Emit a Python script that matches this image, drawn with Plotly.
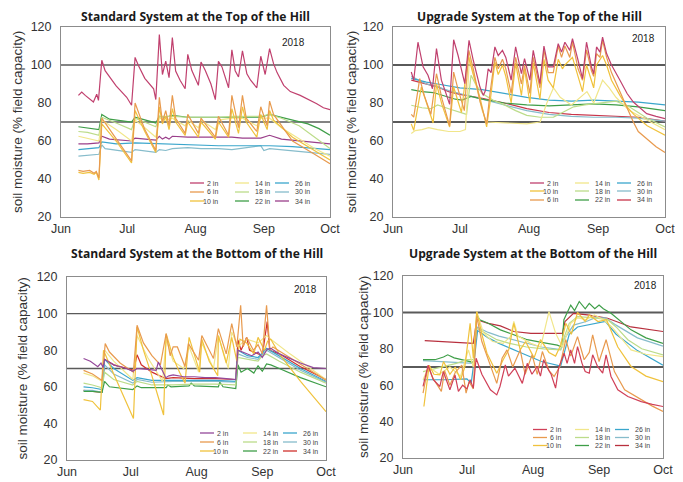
import pandas as pd
import plotly.graph_objects as go

# The page body keeps the browser's default 8px margin, so the figure is sized to fit
# the 683x482 window inside that margin and reference pixels are shifted by it.
WIN_W, WIN_H, OFF = 683, 482, 8
W, H = WIN_W - OFF, WIN_H - OFF
BASE = pd.Timestamp("2018-06-01")
X_START, X_END = "2018-06-01", "2018-10-01"

MONTH_TICKS = ["2018-06-01", "2018-07-01", "2018-08-01", "2018-09-01", "2018-10-01"]
MONTH_LABELS = ["Jun", "Jul", "Aug", "Sep", "Oct"]
Y_TICKS = [20, 40, 60, 80, 100, 120]
REF_LINES = [70, 100]
YEAR = "2018"
Y_TITLE = "soil moisture (% field capacity)"
TITLES = ["Standard System at the Top of the Hill",
          "Upgrade System at the Top of the Hill",
          "Standard System at the Bottom of the Hill",
          "Upgrade System at the Bottom of the Hill"]

DEPTHS = ["2 in", "6 in", "10 in", "14 in", "18 in", "22 in", "26 in", "30 in", "34 in"]

# ---- data: (days after Jun 1, % field capacity) ----
# Standard system, top of hill
ST_2 = [(7.9,84),(9.4,85.8),(11,84),(14.7,80.5),(16.2,84.6),(17,81.4),(18.5,102.5),(20,97),(25,89),(29.8,83),(32,78.8),(33.6,104),(35,100),(38,93),(42,87.5),(43,81.8),(44.6,116),(46,95),(47.5,102),(49,93.3),(50.5,114.4),(52,96.8),(54,92),(56.3,87.5),(57.5,105.6),(59.3,97.2),(62.3,89.3),(63.5,101.6),(65.4,97.2),(68,90),(70,81.8),(71.4,102),(73,99),(76,88),(77.5,108),(79,97),(80.5,93.7),(82.3,107.4),(84.3,95.4),(86,92),(88.8,88),(90.6,104.6),(92.6,95),(94.6,108.6),(96.4,100.7),(98,96),(101,89.3),(104,86),(108.5,84),(112,82),(116,79.6),(119,77.5),(122,76.5)]
ST_6 = [(7.9,44.5),(10,44),(13,44.5),(15,43),(16,44),(17.2,40.5),(18.5,72),(25,61),(32,49.5),(33.6,80),(38,66),(43,55),(44.6,83),(46,70),(47.5,76),(49,68),(50.5,84),(52,72),(56.3,64),(57.5,74),(62.3,64),(63.5,72),(70,62),(71.4,73),(76,63),(77.5,84),(80.5,67),(82.3,84),(84,72),(88.8,65),(90.6,78),(93.5,68),(94.6,81),(96.4,74),(105,60),(115,53),(122,48)]
ST_10 = [(7.9,43.5),(10,43),(13,43.5),(15,42.5),(16,43.5),(17.2,39.5),(18.5,69),(25,60),(32,48.5),(33.6,76),(38,65),(43,54),(44.6,78),(46,69),(47.5,73),(49,66),(50.5,77),(52,70),(56.3,63),(57.5,70),(62.3,62),(63.5,70),(70,61),(71.4,70),(76,62),(77.5,77),(80.5,64),(82.3,78),(84,70),(88.8,62),(90.6,74),(93.5,66),(94.6,76),(96.4,71),(105,62),(115,55),(122,50)]
ST_14 = [(7.9,62.5),(12,61.5),(17.2,60),(18.5,71),(25,66),(32,60),(33.6,71),(38,67),(43,62),(44.6,72),(47.5,71),(50.5,72),(56.3,68),(57.5,71),(62.3,67),(63.5,71),(70,66),(71.4,71),(77.5,72),(82.3,72),(88.8,68),(90.6,72),(94.6,72),(100,67),(108,61),(115,56),(122,52)]
ST_18 = [(7.9,65),(12,64.5),(17.2,63),(18.5,72.5),(25,69.5),(32,66),(33.6,72),(43,67.5),(44.6,73),(50.5,73),(57.5,72.5),(63.5,72.5),(71.4,72.5),(77.5,73),(82.3,73),(90.6,73),(94.6,74),(100,72),(108,68),(115,62),(122,56)]
ST_22 = [(7.9,67.5),(12,67),(17.2,66),(18.5,74),(22,71.5),(32,70),(33.6,72.5),(43,69.5),(44.6,73),(47.5,72.5),(50.5,73.5),(57.5,72.5),(63.5,72.5),(71.4,72.5),(77.5,72.5),(82.3,72.5),(90.6,72.5),(94.6,74),(100,72.5),(106,71),(112,69),(117,66.5),(122,63)]
ST_26 = [(7.9,55.5),(12,56),(17.2,56.5),(18.5,59.5),(25,58.5),(33.6,59),(44.6,58.5),(57.5,58),(71.4,57.5),(82.3,57.5),(94.6,57.5),(105,57),(122,55.5)]
ST_30 = [(7.9,52),(12,52.5),(17.2,53),(18.5,58),(20,56),(32,54),(33.6,55.5),(43,54),(44.6,55.5),(47.5,55),(50.5,56),(57.5,56.5),(63.5,56),(71.4,56),(77.5,55.5),(90.6,57.5),(92,55),(94.6,56),(105,55),(122,53)]
ST_34 = [(7.9,58.5),(12,58.5),(17.2,59),(18.5,62.5),(22,61),(32,60),(33.6,61.5),(43,60.5),(44.6,62.5),(46,61),(47.5,62),(49,61),(50.5,62.5),(57.5,62),(63.5,62),(71.4,62),(77.5,62),(82.3,61.5),(90.6,61.5),(94.6,63),(100,61),(122,58.5)]

# Upgrade system, top of hill
UT_2 = [(8.2,96.3),(9.3,92),(11.2,112),(13.5,99),(15.7,94.6),(17.7,87.5),(19.5,108.6),(21.7,92),(23.5,86),(25.4,79.3),(27.2,113.3),(29.2,105),(32.2,90.2),(34.1,113),(36,102.5),(39,88.4),(40.5,84),(41.5,86.7),(42.7,98),(44,96),(45.7,109.5),(47.2,105),(49.1,107.7),(50.6,104),(53,92),(55,109.5),(57.6,95.4),(59,103.3),(61.4,92),(62.9,107.7),(64.7,97.2),(65.9,90.2),(67.7,110),(69.6,99),(71.9,99),(74.1,111.2),(75.6,106.8),(77.1,112),(79.3,107.7),(80.5,113.9),(83,102.5),(85,92.8),(86.8,112),(89,99),(90,95.4),(91.3,109.5),(92.8,106.8),(94,114.7),(95.8,106),(98,100),(101.8,92),(105,85),(107.8,80.5),(111,77),(113.8,74.4),(118,73),(122,71.8)]
UT_6 = [(8.2,74),(9.3,72.6),(12,92.8),(14,84),(17,74),(19.5,95.4),(22,82),(25.4,68),(27.2,96.3),(29,88),(32,76),(34,107.7),(36,98),(39,81),(42,69),(43.5,85),(45.7,104),(47.2,98),(49.1,103),(50.6,98),(53,85),(55,104),(57.6,90),(59,100),(61.4,85),(62.9,104),(65.9,88),(67.7,108),(69.6,96),(71.9,96),(74.1,110),(75.6,104),(77.1,110),(79.3,104),(80.5,112),(83,98),(85,92),(86.8,108),(89,97),(90,94),(91.3,106),(92.8,104),(94,113),(95.8,104),(98,96),(101.8,86),(105,77),(107.8,70),(110,65),(113.8,61),(118,57),(122,54)]
UT_10 = [(8.2,69),(9.3,65.6),(12.7,88.4),(15,80),(18,69.5),(19.5,90),(22,79),(25.4,67.4),(27.2,88.4),(30.7,75),(33.7,105),(36,95),(39,83),(42,67.4),(43.5,80),(45.7,101.6),(47.2,95),(49.1,100),(50.6,94),(53,80),(55,101),(57.6,84),(59,98),(61.4,80),(62.9,101),(65.9,82),(67.7,103),(69.6,92),(71.9,88),(74.1,103),(76,98),(77.1,100),(80.5,104),(83,94),(85,86),(86.8,100),(90,88),(91.3,100),(94,105),(95.8,100),(98,92),(101.8,84),(105,78),(108,74),(114,68),(122,63)]
UT_14 = [(8.2,64),(10,65.5),(13,66),(16,67),(20,66),(25,65),(30,65),(32.5,66),(34.3,104),(36,96),(38,86),(40,76),(42,70),(50,69.5),(60,69),(66,70),(69,80),(72,88),(75,83),(80,79),(84,83),(87,86),(90,80),(94,92),(97,88),(100,83),(106,76),(114,71),(122,66)]
UT_18 = [(8.2,78.8),(13,77.5),(17,77),(20,79),(25,77),(30,75),(33,74),(35,94.6),(37,90),(40,85),(45,81.4),(50,79),(55,76),(60,73.5),(66,72.5),(72,72.6),(76,75),(81,78),(86,79),(90,79.6),(95,80.5),(100,81),(106,78),(114,72),(122,67.4)]
UT_22 = [(8.2,87),(13,86),(18,85.5),(22,84),(25,83),(28,82),(31,81.5),(33,82.5),(35,83.5),(40,82),(50,80),(60,79),(70,78.5),(80,79),(90,79.5),(100,79),(110,78),(122,76)]
UT_26 = [(8.2,93),(15,91),(20,90),(25,89),(30,88),(40,87),(50,85),(60,83),(70,81.5),(80,81),(90,81.5),(100,81),(110,80.5),(122,79)]
UT_30 = [(8.2,94),(15,90),(20,88.5),(25,86.5),(30,85),(40,82),(50,79),(60,76),(70,74),(80,73),(90,72.5),(100,72.5),(110,72),(122,70.5)]
UT_34 = [(8.2,92),(15,90),(20,88.5),(25,86),(30,84.5),(40,82.5),(50,80),(60,77),(70,75),(80,74),(90,73.5),(100,73),(110,72.5),(122,70.5)]

# Standard system, bottom of hill
SB_2 = [(7.8,75.5),(11,74),(14.5,71),(16,73),(17,70.5),(17.7,75),(22,72),(28,70),(31,68.5),(33,70),(38,69.5),(42,69),(43,73.5),(44.5,70),(46.5,65),(48,66),(50,66.5),(55,65.5),(60,65.5),(65,65),(70,65),(75,64.5),(79.5,64),(80.5,80),(83,79),(87,77),(90,79),(92,76),(94.3,80.5),(96,81),(100,78),(110,73),(116,70.5),(122,70)]
SB_6 = [(7.8,69),(12,67),(16.5,63.5),(18,83.6),(20,79),(25,73),(31.3,68),(33,93.6),(36,84),(40,77),(44,72),(46.7,89),(48.6,77),(50,81.8),(52,81.8),(55.6,71),(57.2,83.6),(62,74.5),(63.5,88),(69,75.5),(71.3,91.8),(75,78),(77.6,94.5),(80,81.8),(81.8,104.5),(83,81.8),(84.6,87),(87.8,80),(90,83),(92,78),(94,104.5),(95.6,80),(97,81.8),(105,76),(115,69),(122,63.6)]
SB_10 = [(7.8,53),(12,52),(15.7,47.3),(17.2,80),(22,67),(27,54),(31.3,42.7),(33,92.7),(36,80),(40,66),(45.5,44.6),(46.7,89),(50,76),(53,68),(55.6,62),(57.5,87),(60,78),(62.5,68),(63.5,86),(67,74),(71,66),(71.3,88),(75,73),(77.6,87),(80,74),(81.5,86),(84.6,84),(88,78),(90,87),(93,80),(94.5,85),(96,86),(100,78),(110,63),(122,46.4)]
SB_14 = [(7.8,67.5),(12,66),(16.5,63),(17.7,80),(22,74),(31,64),(33,88),(38,76),(45,63),(46.7,86),(50,74),(55,70),(57.5,82),(62,68),(63.5,84),(69,70),(71.3,88),(76,70),(77.6,90),(80.5,82),(84.6,86),(90,84),(94,88),(96,86),(105,78),(115,70),(122,64)]
SB_18 = [(7.8,62),(12,61),(16.5,59.5),(17.7,68),(22,64),(31,61),(33,63),(40,61),(50,61),(60,61.5),(70,61.5),(79.5,61),(80.5,76),(85,75),(90,74),(92,77),(94,78),(100,74),(110,68),(122,62)]
SB_22 = [(7.8,57.5),(12,57.5),(16.5,57),(17.7,63),(20,60),(31,58.5),(33,60.5),(35,59.5),(46.7,59.5),(47.5,61),(49,60),(57.5,60.5),(58.5,62),(60,60.5),(71.3,60),(72,62.5),(73.5,60),(79.5,59),(80.5,72),(82,68),(85,70),(88,67.5),(90,71.5),(92,68.5),(94,72.5),(96,72),(100,70),(110,65),(122,60)]
SB_26 = [(7.8,60),(12,59.5),(16.5,58.5),(17.7,75),(22,70),(31,63.5),(33,65),(40,63.5),(50,63.5),(60,63.5),(70,63.5),(79.5,63),(80.5,80),(85,77),(90,76),(94,81),(100,77),(110,70),(122,63)]
SB_30 = [(7.8,58),(12,58),(16.5,57),(17.7,72),(22,67),(31,62),(33,64),(40,62.5),(50,63),(60,63),(70,63),(79.5,62.5),(80.5,78),(85,76),(90,75),(94,80),(100,76),(110,69),(122,62.5)]
SB_34 = [(7.8,58),(12,57.5),(16.5,57),(17.7,75),(22,72),(31.4,69),(33,77.5),(35,72),(40,68),(46.5,64.5),(50,65),(60,64.5),(70,64.5),(79.5,64),(80.5,85.6),(82,80),(84.6,87),(86,80),(90,78),(92,77),(94.3,95.6),(95.5,80),(100,78),(110,71),(122,64)]

# Upgrade system, bottom of hill
UB_2 = [(9.4,59.3),(11.8,71),(14.2,63),(17.3,59.3),(18.9,67.5),(22,57.5),(24.4,65.7),(26,56.6),(28,60),(30,58),(31.5,63),(33,58.4),(34.3,74.8),(37,66),(41,57.5),(44,54.7),(45.5,59.3),(47.2,66.6),(48,71.2),(49.5,65),(51,67.5),(52.5,69.4),(56,61),(58.3,72),(60.5,66),(63,70.3),(64.5,65),(66,74),(67.5,70),(69.5,66),(71.6,58.4),(73,69.4),(75.6,77.6),(77,72),(78.7,79.4),(80.5,72),(81.9,81.2),(84,72),(85.5,67.5),(87.4,66.6),(89,76.7),(91.3,70.3),(93.7,66.6),(95.3,76.7),(97.6,64.8),(100.8,57.5),(105.5,53.8),(111.8,51),(117,49.5),(122,48.3)]
UB_6 = [(9.4,55.6),(11.8,70.3),(14,64),(18,56.6),(19.5,68),(22,60),(24.5,67),(27.6,71),(29.6,55.6),(31,62),(33,58),(34.6,97.7),(37,84),(41,70.3),(44,61),(46.5,74.8),(48.8,79.4),(51.5,70),(55,79.4),(57.3,66),(60.6,76.7),(63,66),(65.4,78.5),(68.5,68),(70.9,64.8),(73.5,70),(76.4,85),(78.7,76),(81.9,86.7),(85,74),(87.4,78),(89,87.6),(92,73),(95.3,85),(99.2,67.5),(104,57.5),(111.8,52),(117,48.5),(122,45.6)]
UB_10 = [(9.8,48.3),(12.3,71),(14.5,66),(17.3,65.7),(19,73),(22,66),(24.5,70),(27,63),(29,70),(31.5,94),(33,75),(34.6,100.4),(37,88),(39.4,77.6),(44,66.6),(47,74),(49.6,79.4),(52,94),(55,79.4),(57.5,84),(61.5,75),(64.5,85),(68.5,78),(71.6,76),(74,82),(76.4,94),(79,88),(81.9,100),(85.5,95),(87.4,98.6),(91.5,95),(95.5,96),(100.8,81),(107,70.3),(114,65),(122,62)]
UB_14 = [(9.4,63),(12,70),(17,66),(22,70),(27,65),(30.7,79.4),(33,70),(34.6,100.4),(37.8,88.6),(42,84),(47,83),(50.4,86.7),(52,95),(54,87),(60,83),(64.6,81),(68.5,100.4),(71.6,88.6),(74.8,81),(78.7,94),(82,97),(86,96),(89.8,98.6),(94,96),(98,92),(107,79.4),(114,77),(122,75.7)]
UB_18 = [(9.4,67.5),(15,69),(20,70.5),(25,72),(30,74),(33,74),(34.6,91.3),(38,89),(44,85),(50,83),(58,81),(66,80),(74,79.4),(75.5,86),(78,94),(81.9,97.7),(86,97.5),(90,97),(96,96),(100,92),(105.5,85),(112,80),(122,76.7)]
UB_22 = [(9.4,74),(15,74),(19,75.5),(21,76.7),(24,75),(28,74),(31,73),(33,72.5),(33.8,80),(34.6,98.6),(36,96),(40,94),(45.7,90.4),(52,87.5),(58.3,85),(65,83.5),(72.4,82),(74.5,81),(75.5,96),(78.7,104),(80.5,101),(82.7,106),(85.5,102),(87.4,105),(90,102),(92,104),(94,102),(97.6,99.5),(102,95),(107,90.4),(114,86),(122,83)]
UB_26 = [(9.4,63),(20,63),(30,63.5),(32,61),(33.9,78.5),(35,90),(40,86),(45,83),(55,78),(65,73),(74,70.5),(76,80),(78,88),(81.9,92),(86,93),(90,94),(95,95),(100,88),(110,79),(122,71)]
UB_30 = [(9.4,73.5),(20,73),(30,72.5),(33,72),(34.6,92),(40,89),(45,87),(55,84),(65,81),(74,79.5),(76,86),(80,93),(86,95),(90,97),(95,97),(100,93),(110,86),(122,81.5)]
UB_34 = [(10.2,84.5),(20,84),(30,83.5),(33,83),(34.6,96),(40,94),(45.7,92.6),(52,89.5),(60,88.5),(74.8,88.5),(76,95),(80,99.5),(86.6,98.6),(96,96.8),(107,92),(115,90.5),(122,89.5)]

BASE_COLORS = {"2 in": "#c0406e", "6 in": "#e89a4e", "10 in": "#f0c23c", "14 in": "#f1e68a",
               "18 in": "#bcdc8a", "22 in": "#3e9e48", "26 in": "#3aa6cc", "30 in": "#86bccb",
               "34 in": "#9a3f8a"}

PANELS = [
    dict(title=TITLES[0], box=(61, 330, 27, 217), title_y=16.5, ytitle_x=18, year=(37, 15),
         rows=(34, 25, 16), cols=(140, 95, 55), colors={},
         legend_cols=[["2 in", "6 in", "10 in"], ["14 in", "18 in", "22 in"], ["26 in", "30 in", "34 in"]],
         data={"2 in": ST_2, "6 in": ST_6, "10 in": ST_10, "14 in": ST_14, "18 in": ST_18,
               "22 in": ST_22, "26 in": ST_26, "30 in": ST_30, "34 in": ST_34}, refw=1.3),
    dict(title=TITLES[1], box=(393, 665, 27, 217), title_y=16.5, ytitle_x=352, year=(22, 11),
         rows=(34, 26, 17), cols=(135, 90, 48), colors={"34 in": "#c8344a"},
         legend_cols=[["2 in", "10 in", "6 in"], ["14 in", "18 in", "22 in"], ["26 in", "30 in", "34 in"]],
         data={"2 in": UT_2, "6 in": UT_6, "10 in": UT_10, "14 in": UT_14, "18 in": UT_18,
               "22 in": UT_22, "26 in": UT_26, "30 in": UT_30, "34 in": UT_34}, refw=2),
    dict(title=TITLES[2], box=(67, 326, 277, 460), title_y=253, ytitle_x=22, year=(21, 12),
         rows=(27, 18, 9), cols=(126, 83, 43), colors={"2 in": "#94489a", "34 in": "#d0302c"},
         legend_cols=[["2 in", "6 in", "10 in"], ["14 in", "18 in", "22 in"], ["26 in", "30 in", "34 in"]],
         data={"2 in": SB_2, "6 in": SB_6, "10 in": SB_10, "14 in": SB_14, "18 in": SB_18,
               "22 in": SB_22, "26 in": SB_26, "30 in": SB_30, "34 in": SB_34}, refw=1.3),
    dict(title=TITLES[3], box=(403, 663, 276, 458), title_y=253, ytitle_x=363, year=(18, 9),
         rows=(28.5, 20.5, 12.5), cols=(130, 88, 48), colors={"2 in": "#d04058", "34 in": "#b8303e"},
         legend_cols=[["2 in", "6 in", "10 in"], ["14 in", "18 in", "22 in"], ["26 in", "30 in", "34 in"]],
         data={"2 in": UB_2, "6 in": UB_6, "10 in": UB_10, "14 in": UB_14, "18 in": UB_18,
               "22 in": UB_22, "26 in": UB_26, "30 in": UB_30, "34 in": UB_34}, refw=2),
]

FONT = "Liberation Sans, Arial, sans-serif"
TEXT = "#333333"
FRAME = "#8c8c8c"

fig = go.Figure()
shapes, annotations = [], []


def px(x):
    return (x - OFF) / W


def py(y):
    return 1 - (y - OFF) / H


for i, p in enumerate(PANELS, start=1):
    L, R, T, B = p["box"]
    sfx = "" if i == 1 else str(i)
    colors = dict(BASE_COLORS, **p["colors"])
    for name in reversed(DEPTHS):
        pts = p["data"][name]
        fig.add_trace(go.Scatter(
            x=[BASE + pd.Timedelta(days=d) for d, _ in pts], y=[v for _, v in pts],
            mode="lines", name=name, line=dict(color=colors[name], width=1.2),
            xaxis="x" + sfx, yaxis="y" + sfx, showlegend=False, hoverinfo="skip"))

    fig.layout["xaxis" + sfx] = dict(
        domain=[px(L), px(R)], anchor="y" + sfx, type="date", range=[X_START, X_END],
        tickmode="array", tickvals=MONTH_TICKS, ticktext=MONTH_LABELS, automargin=False,
        showline=True, mirror=True, linecolor=FRAME, linewidth=1, ticks="",
        showgrid=False, zeroline=False, ticklabelstandoff=0,
        tickfont=dict(family=FONT, size=12.5, color=TEXT))
    fig.layout["yaxis" + sfx] = dict(
        domain=[py(B), py(T)], anchor="x" + sfx, range=[20, 120], automargin=False,
        tickmode="array", tickvals=Y_TICKS,
        showline=True, mirror=True, linecolor=FRAME, linewidth=1, ticks="",
        showgrid=False, zeroline=False, ticklabelstandoff=6,
        tickfont=dict(family=FONT, size=12.5, color=TEXT))

    for ref in REF_LINES:
        shapes.append(dict(type="line", xref="x" + sfx + " domain", yref="y" + sfx,
                           x0=0, x1=1, y0=ref, y1=ref, layer="below",
                           line=dict(color="#5a5a5a", width=p["refw"])))

    annotations.append(dict(text="<b>" + p["title"] + "</b>", x=px((L + R) / 2), y=py(p["title_y"]),
                            xref="paper", yref="paper", showarrow=False, xanchor="center",
                            yanchor="middle", borderpad=0,
                            font=dict(family="Open Sans, sans-serif", size=12.1, color="#1a1a1a")))
    annotations.append(dict(text=Y_TITLE, x=px(p["ytitle_x"]), y=py((T + B) / 2), textangle=-90,
                            xref="paper", yref="paper", showarrow=False, xanchor="center",
                            yanchor="middle", font=dict(family=FONT, size=13.5, color=TEXT)))
    annotations.append(dict(text=YEAR, x=px(R - p["year"][0]), y=py(T + p["year"][1]),
                            xref="paper", yref="paper", showarrow=False, xanchor="center",
                            yanchor="middle", font=dict(family=FONT, size=10, color="#222")))

    # legend, drawn as three columns
    for c, col in enumerate(p["legend_cols"]):
        x0 = R - p["cols"][c]
        for r, name in enumerate(col):
            yy = B - p["rows"][r]
            shapes.append(dict(type="line", xref="paper", yref="paper",
                               x0=px(x0), x1=px(x0 + 14), y0=py(yy), y1=py(yy),
                               line=dict(color=colors[name], width=1.3)))
            if c == 0:
                annotations.append(dict(text=name, x=px(x0 + 30), y=py(yy), xref="paper", yref="paper",
                                        showarrow=False, xanchor="right", yanchor="middle",
                                        font=dict(family=FONT, size=7, color="#444")))
            else:
                annotations.append(dict(text=name, x=px(x0 + 18), y=py(yy), xref="paper", yref="paper",
                                        showarrow=False, xanchor="left", yanchor="middle",
                                        font=dict(family=FONT, size=7, color="#444")))

fig.update_layout(width=W, height=H, margin=dict(l=0, r=0, t=0, b=0, autoexpand=False),
                  paper_bgcolor="white", plot_bgcolor="white",
                  showlegend=False, shapes=shapes, annotations=annotations)

fig.write_html("out.html")
